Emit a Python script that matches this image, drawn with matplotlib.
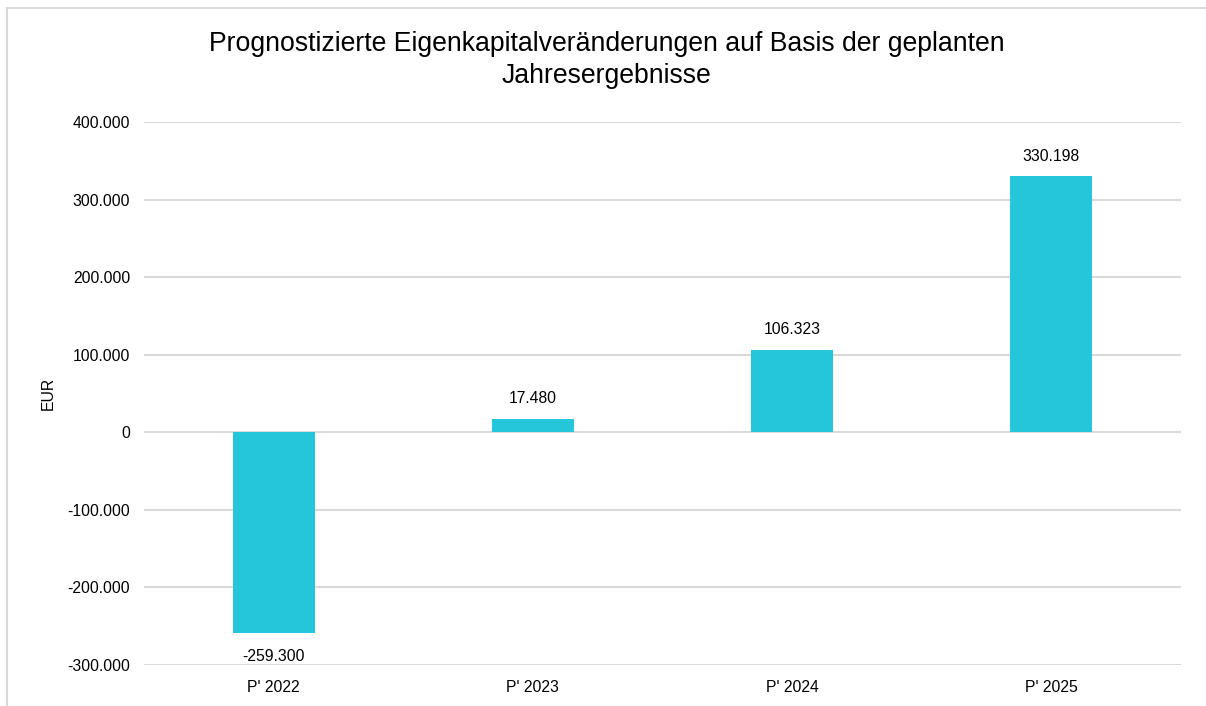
import matplotlib.pyplot as plt
from matplotlib.patches import Rectangle
from matplotlib.ticker import FuncFormatter

plt.rcParams['font.family'] = ['Liberation Sans', 'DejaVu Sans']

# Daten
jahre = ["P' 2022", "P' 2023", "P' 2024", "P' 2025"]
werte = [-259300, 17480, 106323, 330198]
y_ticks = [-300000, -200000, -100000, 0, 100000, 200000, 300000, 400000]


def de_format(v, pos=None):
    # Tausenderpunkt wie im Original
    return f"{v:,.0f}".replace(",", ".")


fig = plt.figure(figsize=(12.06, 7.06), dpi=100)
ax = fig.add_axes([144 / 1206, 1 - 665 / 706, (1181 - 144) / 1206, (665 - 122) / 706])

# Rahmen links/oben
fig.patches.append(Rectangle((7 / 1206, -0.1), 1.2, 1 - 8 / 706 + 0.1, transform=fig.transFigure,
                             fill=False, edgecolor='#d9d9d9', linewidth=1.5, zorder=0))

x = range(len(jahre))
ax.bar(x, werte, width=0.316, color='#26C6DA', zorder=3)

fs = 11.3
for xi, v in zip(x, werte):
    if v >= 0:
        ax.annotate(de_format(v), (xi, v), xytext=(0, 9), textcoords='offset points',
                    ha='center', va='bottom', fontsize=fs)
    else:
        ax.annotate(de_format(v), (xi, v), xytext=(0, -11), textcoords='offset points',
                    ha='center', va='top', fontsize=fs)

ax.set_ylim(-300000, 400000)
ax.set_xlim(-0.5, len(jahre) - 0.5)
ax.set_yticks(y_ticks)
ax.yaxis.set_major_formatter(FuncFormatter(de_format))
ax.set_xticks(list(x))
ax.set_xticklabels(jahre)
ax.tick_params(axis='both', length=0, labelsize=fs, pad=10)
ax.tick_params(axis='x', pad=11)
ax.grid(axis='y', color='#d9d9d9', linewidth=1.5, zorder=0)
for s in ax.spines.values():
    s.set_visible(False)

ax.set_ylabel('EUR', fontsize=fs, labelpad=8)
fig.text(0.503, 1 - 60 / 706, 'Prognostizierte Eigenkapitalveränderungen auf Basis der geplanten\nJahresergebnisse',
         ha='center', va='center', fontsize=19.2, linespacing=1.3)

fig.savefig('out.png', dpi=100)
